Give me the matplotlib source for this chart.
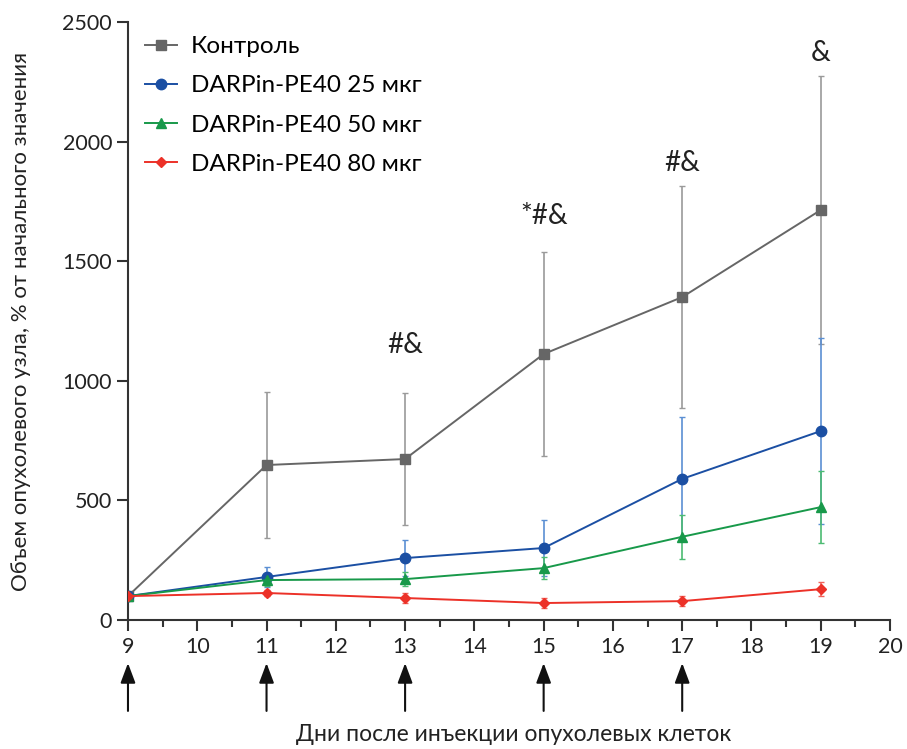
import matplotlib
matplotlib.use("Agg")
import matplotlib.pyplot as plt
from matplotlib.ticker import MultipleLocator
from matplotlib.transforms import blended_transform_factory

plt.rcParams['font.family'] = ['Lato', 'DejaVu Sans']

days = [9, 11, 13, 15, 17, 19]
labels = ["Контроль", "DARPin-PE40 25 мкг", "DARPin-PE40 50 мкг", "DARPin-PE40 80 мкг"]
control = [100, 648, 673, 1112, 1350, 1714]
control_err = [0, 305, 275, 425, 465, 560]
d25 = [100, 180, 259, 301, 590, 790]
d25_err = [0, 40, 75, 117, 259, 389]
d50 = [100, 167, 171, 217, 348, 472]
d50_err = [0, 25, 30, 45, 92, 150]
d80 = [100, 113, 92, 71, 79, 129]
d80_err = [0, 12, 22, 22, 22, 30]
injection_days = [9, 11, 13, 15, 17]
annotations = [(13, 1150, "#&"), (15, 1690, "*#&"), (17, 1910, "#&"), (19, 2370, "&")]

fig = plt.figure(figsize=(9.07, 7.49), dpi=100)
ax = fig.add_axes([0.1411, 0.1722, 0.8402, 0.7984])

series = [
    (control, control_err, "#666666", "#9a9a9a", "s", 7.5),
    (d25, d25_err, "#1b4fa3", "#5b8fd3", "o", 7.5),
    (d50, d50_err, "#18994a", "#4cbb72", "^", 7.5),
    (d80, d80_err, "#ec3128", "#f0625a", "D", 5.5),
]
for (vals, err, col, ecol, mk, ms), lab in zip(series, labels):
    ax.errorbar(days, vals, yerr=err, fmt="none", ecolor=ecol, elinewidth=1.2,
                capsize=2, capthick=1.0, zorder=2)
    ax.plot(days, vals, color=col, marker=mk, markersize=ms, lw=1.4,
            label=lab, zorder=3)

for x, y, t in annotations:
    ax.text(x, y, t, ha="center", va="center", fontsize=20, color="#222222")

ax.set_xlim(9, 20)
ax.set_ylim(0, 2500)
ax.xaxis.set_major_locator(MultipleLocator(1))
ax.xaxis.set_minor_locator(MultipleLocator(0.5))
ax.yaxis.set_major_locator(MultipleLocator(500))
for s in ["top", "right"]:
    ax.spines[s].set_visible(False)
for s in ["left", "bottom"]:
    ax.spines[s].set_linewidth(1.5)
    ax.spines[s].set_color("#333333")
ax.tick_params(axis="both", which="major", length=8, width=1.5, labelsize=15.5,
               colors="#333333", labelcolor="#222222")
ax.tick_params(axis="x", which="minor", length=5, width=1.5, colors="#333333")
ax.tick_params(axis="x", which="major", pad=4)

ax.set_ylabel("Объем опухолевого узла, % от начального значения", fontsize=16,
              color="#222222")
ax.yaxis.set_label_coords(-0.127, 0.5)

trans = blended_transform_factory(ax.transData, ax.transAxes)
for d in injection_days:
    ax.annotate("", xy=(d, -0.072), xytext=(d, -0.152), xycoords=trans,
                textcoords=trans, annotation_clip=False,
                arrowprops=dict(arrowstyle="-|>,head_length=1.2,head_width=0.45",
                                color="#111111", lw=1.5, shrinkA=0, shrinkB=0))

fig.text(0.5665, 0.0187, "Дни после инъекции опухолевых клеток", ha="center",
         va="center", fontsize=16.5, color="#222222")

leg = ax.legend(loc="upper left", bbox_to_anchor=(0.0, 1.005), frameon=False,
                fontsize=17.5, handlelength=1.3, handletextpad=0.6,
                labelspacing=0.75, borderaxespad=0.3)

fig.savefig("out.png", dpi=100)
